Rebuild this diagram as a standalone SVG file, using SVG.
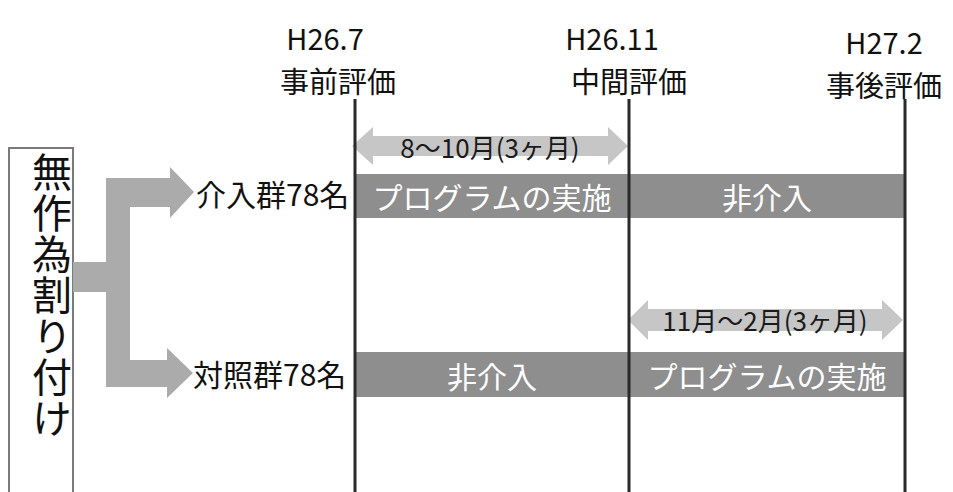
<svg xmlns="http://www.w3.org/2000/svg" width="953" height="492" viewBox="0 0 953 492">
<style>
text{font-family:"Noto Sans CJK JP","Noto Sans",sans-serif;fill:#111}
.hd{font-size:29px;text-anchor:middle}
.lbl{font-size:30px;dominant-baseline:central}
.bar{fill:#8e8e8e}
.bt{font-size:30px;fill:#fff;text-anchor:middle;dominant-baseline:central}
.dbl{fill:#c6c6c6}
.dt{font-size:26px;text-anchor:middle;dominant-baseline:central;fill:#1a1a1a}
.vl{stroke:#2a2a2a;stroke-width:3}
</style>
<rect width="953" height="492" fill="#fff"/>
<g id="box">
<rect x="9" y="148" width="64" height="360" fill="none" stroke="#7a7a7a" stroke-width="2"/>
<text x="52" y="152" font-size="40" letter-spacing="1" writing-mode="vertical-rl">無作為割り付け</text>
</g>
<g id="connectors">
<polygon fill="#ababab" points="73,262 106,262 106,178 170,178 170,167 194,192 170,218 170,207 130,207 130,360 167,360 167,348 193,373 167,398 167,387 106,387 106,292 73,292"/>
</g>
<g id="bars">
<rect class="bar" x="355" y="174" width="550" height="44"/>
<rect class="bar" x="355" y="352" width="550" height="45"/>
<text class="bt" x="492" y="196">プログラムの実施</text>
<text class="bt" x="767" y="196">非介入</text>
<text class="bt" x="492" y="375">非介入</text>
<text class="bt" x="767" y="375">プログラムの実施</text>
</g>
<g id="period1">
<polygon class="dbl" points="352,146 373,127 373,136 608,136 608,127 628,146 608,165 608,156 373,156 373,165"/>
<text class="dt" x="490" y="146">8～10月(3ヶ月)</text>
</g>
<g id="period2">
<polygon class="dbl" points="628,320 648,300 648,309 882,309 882,300 903,320 882,340 882,331 648,331 648,340"/>
<text class="dt" x="765" y="319">11月～2月(3ヶ月)</text>
</g>
<g id="lines">
<line class="vl" x1="355" y1="99" x2="355" y2="492"/>
<line class="vl" x1="629" y1="99" x2="629" y2="492"/>
<line class="vl" x1="905" y1="99" x2="905" y2="492"/>
</g>
<g id="h1"><text class="hd" x="325" y="50">H26.7</text><text class="hd" x="338" y="93">事前評価</text></g>
<g id="h2"><text class="hd" x="612" y="50">H26.11</text><text class="hd" x="629" y="93">中間評価</text></g>
<g id="h3"><text class="hd" x="884" y="54">H27.2</text><text class="hd" x="884" y="97">事後評価</text></g>
<g id="g1"><text class="lbl" x="196" y="193">介入群78名</text></g>
<g id="g2"><text class="lbl" x="193" y="373">対照群78名</text></g>
</svg>
